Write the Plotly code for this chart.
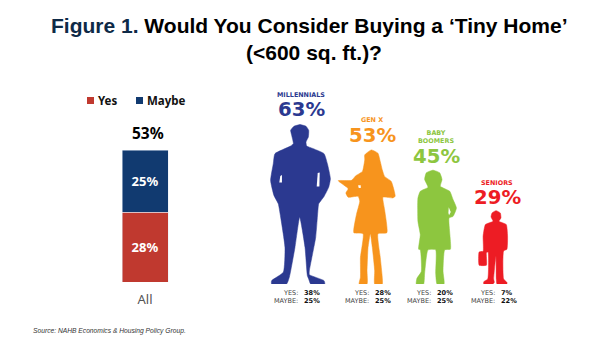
import plotly.graph_objects as go

W, H = 600, 353

# ---------- data ----------
bar_category = ["All"]
bar_yes = [28]
bar_maybe = [25]
bar_total = [53]

generations = ["MILLENNIALS", "GEN X", "BABY<br>BOOMERS", "SENIORS"]
gen_total = [63, 53, 45, 29]
gen_yes = [38, 28, 20, 7]
gen_maybe = [25, 25, 25, 22]
gen_colors = ["#2B3990", "#F7941D", "#8DC63F", "#ED1C24"]
gen_centers = [300, 373, 433, 496]

# silhouette outlines (arbitrary tracing units, rescaled by value)
male_tall = [(150,133),(168,138),(176,150),(175,170),(168,185),(170,197),(190,205),(222,220),(232,250),(241,295),(236,320),(222,348),(206,370),(204,385),(197,470),(178,570),(178,582),(222,600),(224,610),(182,610),(176,595),(172,585),(165,500),(149,410),(135,500),(118,590),(110,610),(65,610),(65,600),(100,575),(105,500),(88,385),(85,370),(72,345),(62,300),(70,250),(75,220),(120,198),(130,190),(125,165),(122,150),(132,138)]
female_young = [(365,205),(385,215),(392,240),(398,265),(405,285),(425,300),(437,345),(430,350),(400,348),(405,385),(412,455),(385,458),(392,530),(398,590),(398,610),(375,610),(375,570),(368,500),(362,458),(355,500),(352,570),(352,610),(328,610),(332,590),(332,530),(340,458),(312,455),(320,400),(330,360),(325,345),(295,348),(288,335),(295,322),(265,298),(305,297),(318,283),(338,270),(345,235),(345,220)]
female_older = [(100,267),(120,275),(127,295),(122,315),(150,330),(160,355),(170,380),(160,405),(148,410),(152,503),(135,505),(130,570),(133,595),(133,607),(112,607),(108,575),(108,505),(85,505),(75,575),(72,607),(50,607),(52,590),(65,570),(62,505),(57,503),(62,460),(55,420),(55,350),(62,330),(85,318),(75,295),(80,275)]
male_senior = [(287,393),(300,400),(302,415),(296,425),(318,435),(322,470),(320,510),(310,515),(310,600),(320,610),(320,615),(290,615),(288,600),(287,530),(280,600),(282,610),(278,615),(250,615),(250,608),(262,600),(263,518),(258,520),(258,558),(236,558),(236,518),(248,516),(248,470),(255,435),(278,425),(272,412),(275,400)]
outlines = [male_tall, female_young, female_older, male_senior]
outline_centers = [150, 370, 100, 287]
# small white gaps inside the silhouettes (arm gaps), same tracing units
gaps_male_tall = [[(203,278),(209,276),(208,318),(200,318)], [(91,287),(96,284),(96,306),(88,306)]]
gaps_female_young = [[(325,312),(333,312),(333,320),(327,320)]]
gaps_female_older = [[(147,378),(153,392),(148,402),(146,395)]]
gaps_male_senior = []
gaps = [gaps_male_tall, gaps_female_young, gaps_female_older, gaps_male_senior]

# ---------- geometry ----------
PX_PER_POINT = 2.53   # silhouette height per percentage point
BASELINE = 284        # silhouette feet, px from top
BAR_TOP, BAR_BOTTOM = 150, 282
YES_COLOR, MAYBE_COLOR = "#C0392F", "#113A70"

fig = go.Figure()

inside_font = dict(family="Noto Sans", size=13, color="white", weight="bold")
fig.add_trace(go.Bar(name="Yes", x=bar_category, y=bar_yes, marker_color=YES_COLOR,
                     text=[f"{v}%" for v in bar_yes], textposition="inside", insidetextanchor="middle",
                     textfont=inside_font, textangle=0, hoverinfo="skip"))
fig.add_trace(go.Bar(name="Maybe", x=bar_category, y=bar_maybe, marker_color=MAYBE_COLOR,
                     text=[f"{v}%" for v in bar_maybe], textposition="inside", insidetextanchor="middle",
                     textfont=inside_font, textangle=0, hoverinfo="skip"))

# silhouettes on overlay axes: x in px, y in percentage points above the baseline
for outline, ocx, cx, total, color, holes in zip(outlines, outline_centers, gen_centers, gen_total, gen_colors, gaps):
    ys_raw = [p[1] for p in outline]
    top, base = min(ys_raw), max(ys_raw)
    k = total / (base - top)
    def to_xy(points):
        xs = [cx + (p[0] - ocx) * k * PX_PER_POINT for p in points]
        ys = [(base - p[1]) * k for p in points]
        return xs + xs[:1], ys + ys[:1]
    xs, ys = to_xy(outline)
    fig.add_trace(go.Scatter(x=xs, y=ys, xaxis="x2", yaxis="y2", mode="lines",
                             fill="toself", fillcolor=color,
                             line=dict(color=color, width=0.5, shape="spline", smoothing=0.45),
                             showlegend=False, hoverinfo="skip"))
    for hole in holes:
        xs, ys = to_xy(hole)
        fig.add_trace(go.Scatter(x=xs, y=ys, xaxis="x2", yaxis="y2", mode="lines",
                                 fill="toself", fillcolor="white", line=dict(color="white", width=0),
                                 showlegend=False, hoverinfo="skip"))

y2_range = BASELINE / PX_PER_POINT
fig.update_layout(
    width=W, height=H, margin=dict(l=0, r=0, t=0, b=0), autosize=False,
    paper_bgcolor="white", plot_bgcolor="rgba(0,0,0,0)",
    barmode="stack", bargap=0.489, showlegend=False,
    font=dict(family="Liberation Sans", color="black"),
    xaxis=dict(domain=[100/W, 190/W], showgrid=False, zeroline=False, showline=False, ticks="",
               ticklabelstandoff=8, tickfont=dict(family="Noto Sans", size=13, color="#555")),
    yaxis=dict(domain=[1-BAR_BOTTOM/H, 1-BAR_TOP/H], range=[0, bar_total[0]], visible=False),
    xaxis2=dict(domain=[0, 1], range=[0, W], visible=False, anchor="y2"),
    yaxis2=dict(domain=[1-BASELINE/H, 1], range=[0, y2_range], visible=False, anchor="x2"),
)

def note(x, y, text, size, color="black", family="Liberation Sans", anchor="center", bold=False):
    fig.add_annotation(xref="paper", yref="paper", x=x/W, y=1-y/H, text=f"<b>{text}</b>" if bold else text,
                       showarrow=False, xanchor=anchor, yanchor="middle", align="center" if anchor=="center" else anchor,
                       borderpad=0, font=dict(size=size, color=color, family=family))

note(309.5, 26, "<b><span style='color:#0E2A47'>Figure 1.</span> Would You Consider Buying a ‘Tiny Home’</b>", 21)
note(314, 53, "(&lt;600 sq. ft.)?", 21, bold=True)

# legend
for x0, color, label in [(87, YES_COLOR, "Yes"), (136, MAYBE_COLOR, "Maybe")]:
    fig.add_shape(type="rect", xref="paper", yref="paper", x0=x0/W, x1=(x0+7)/W, y0=1-104/H, y1=1-97/H,
                  fillcolor=color, line_width=0)
    note(x0+10, 100.5, label, 11.5, color="#111", family="Noto Sans", anchor="left", bold=True)

note(148, 133, f"{bar_total[0]}%", 15.5, family="Noto Sans", bold=True)

# generation labels
DV = "DejaVu Sans"
label_x = [301, 372, 436, 497]
label_y = [94.5, 120.5, 137, 182.5]
pct_y = [110, 135, 156, 197]
sep_x = [299, 370, 432, 496]
for i, name in enumerate(generations):
    color = gen_colors[i]
    note(label_x[i], label_y[i], name, 6.4, color=color, family=DV, bold=True)
    note(label_x[i], pct_y[i], f"{gen_total[i]}%", 19.7, color=color, family=DV, bold=True)
    note(sep_x[i], 293, "YES:", 6.5, color="#444", family=DV, anchor="right")
    note(sep_x[i] + 4, 293, f"{gen_yes[i]}%", 6.6, color="#111", family=DV, anchor="left", bold=True)
    note(sep_x[i], 300.7, "MAYBE:", 6.5, color="#444", family=DV, anchor="right")
    note(sep_x[i] + 4, 300.7, f"{gen_maybe[i]}%", 6.6, color="#111", family=DV, anchor="left", bold=True)

note(32, 331, "<i>Source: NAHB Economics &amp; Housing Policy Group.</i>", 6.7, color="#333", anchor="left")

fig.write_html("out.html", post_script="document.body.style.margin='0';", config={"displayModeBar": False})
